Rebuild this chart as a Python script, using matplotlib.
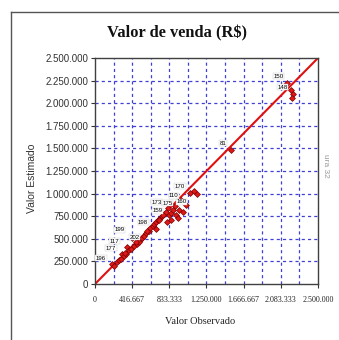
import matplotlib
matplotlib.use("Agg")
import matplotlib.pyplot as plt
from matplotlib.ticker import FixedLocator, FuncFormatter
import numpy as np

# --- data ---
observed = [192e3, 305e3, 362e3, 419e3, 509e3, 679e3, 826e3, 814e3, 894e3, 962e3,
            1018e3, 1063e3, 1527e3, 2149e3, 2195e3,
            215e3, 249e3, 271e3, 294e3, 328e3, 351e3, 385e3, 407e3, 441e3, 475e3,
            498e3, 532e3, 554e3, 577e3, 600e3, 622e3, 645e3, 656e3, 679e3, 701e3,
            724e3, 747e3, 769e3, 792e3, 848e3, 871e3, 905e3, 928e3, 848e3, 803e3,
            939e3, 984e3, 1109e3, 1143e3, 2217e3, 2206e3,
            339e3, 464e3, 588e3, 713e3, 758e3]
estimated = [221e3, 332e3, 409e3, 509e3, 487e3, 608e3, 763e3, 841e3, 863e3, 929e3,
             874e3, 1007e3, 1482e3, 2223e3, 2146e3,
             199e3, 243e3, 265e3, 277e3, 310e3, 332e3, 376e3, 387e3, 420e3, 442e3,
             465e3, 509e3, 531e3, 564e3, 586e3, 619e3, 642e3, 664e3, 686e3, 708e3,
             730e3, 752e3, 774e3, 796e3, 785e3, 819e3, 763e3, 730e3, 708e3, 686e3,
             819e3, 796e3, 1029e3, 996e3, 2102e3, 2058e3,
             339e3, 464e3, 588e3, 713e3, 758e3]
point_labels = ["196", "177", "117", "199", "202", "198", "159", "173", "175", "110",
                "160", "170", "81", "150", "148"]

title = "Valor de venda (R$)"
xlabel = "Valor Observado"
ylabel = "Valor Estimado"
xticks = [0, 416667, 833333, 1250000, 1666667, 2083333, 2500000]
yticks = [0, 250000, 500000, 750000, 1000000, 1250000, 1500000, 1750000,
          2000000, 2250000, 2500000]
line_range = [0, 2500000]
side_text = "ura 32"

# label offsets in points (style only)
label_offsets = {"196": (-8, 4), "177": (-8, 4), "117": (-9, 4), "199": (-9, 6),
                 "202": (-4, 2), "198": (-9, 5), "159": (-8, 3), "173": (-8, 4),
                 "175": (-5, 2), "110": (-5, 3), "160": (-3, 2.5), "170": (-7, 5),
                 "81": (-6, 5), "150": (-6, 5), "148": (-6, 2)}

def fmt(v, pos=None):
    return "{:,.0f}".format(v).replace(",", ".")

W, H = 339, 340
fig = plt.figure(figsize=(W / 100, H / 100), dpi=100)
fig.patch.set_facecolor("white")

# outer frame (top and left visible)
fig.add_artist(plt.Line2D([11 / W, 1.0], [1 - 12 / H, 1 - 12 / H], color="#555555", lw=1.0))
fig.add_artist(plt.Line2D([11 / W, 11 / W], [0, 1 - 12 / H], color="#555555", lw=1.0))

ax = fig.add_axes([95 / W, 1 - 284 / H, 223 / W, 226 / H])
ax.set_xlim(0, 2500000)
ax.set_ylim(0, 2500000)

# grid
grid_kw = dict(color="#4040d8", lw=0.9, dashes=(2.5, 2.5), zorder=1)
for gx in np.arange(1, 12) * (2500000 / 12):
    ax.axvline(gx, **grid_kw)
for gy in yticks[1:-1]:
    ax.axhline(gy, **grid_kw)

# diagonal
ax.plot(line_range, line_range, color="#e01010", lw=1.5, zorder=2)

# points
ax.plot(observed, estimated, linestyle="none", marker="D", ms=3.0,
        mfc="#e01818", mec="#7a0000", mew=0.5, zorder=3)

for i, lab in enumerate(point_labels):
    ax.annotate(lab, (observed[i], estimated[i]), xytext=label_offsets[lab],
                textcoords="offset points", fontsize=4.4, ha="center", va="center",
                family="Liberation Sans", color="black", zorder=4,
                bbox=dict(boxstyle="square,pad=0.08", fc="white", ec="#c8c8c8", lw=0.3))

ax.xaxis.set_major_locator(FixedLocator(xticks))
ax.yaxis.set_major_locator(FixedLocator(yticks))
ax.xaxis.set_major_formatter(FuncFormatter(fmt))
ax.yaxis.set_major_formatter(FuncFormatter(fmt))
ax.tick_params(axis="y", direction="out", length=3, width=0.8, pad=2,
               labelsize=7, colors="#333333")
ax.tick_params(axis="x", direction="out", length=3, width=0.8, pad=6,
               labelsize=5.8, colors="#333333")
for t in ax.get_yticklabels():
    t.set_family("Liberation Sans")
    t.set_color("#333333")
for t in ax.get_xticklabels():
    t.set_family("Liberation Serif")
    t.set_color("#222222")

for s in ax.spines.values():
    s.set_color("#404040")
    s.set_linewidth(1.0)

fig.text(177 / W, 1 - 33 / H, title, ha="center", va="center",
         family="Liberation Serif", fontweight="bold", fontsize=11.8, color="#111111")
fig.text(200 / W, 1 - 322 / H, xlabel, ha="center", va="center",
         family="Liberation Serif", fontsize=7.5, color="#222222")
fig.text(32 / W, 1 - 178 / H, ylabel, ha="center", va="center", rotation=90,
         family="Liberation Sans", fontsize=7.5, color="#333333")
fig.text(326 / W, 1 - 166 / H, side_text, ha="center", va="center", rotation=270,
         family="Liberation Sans", fontsize=6, color="#999999")

fig.savefig("out.png", dpi=100)
